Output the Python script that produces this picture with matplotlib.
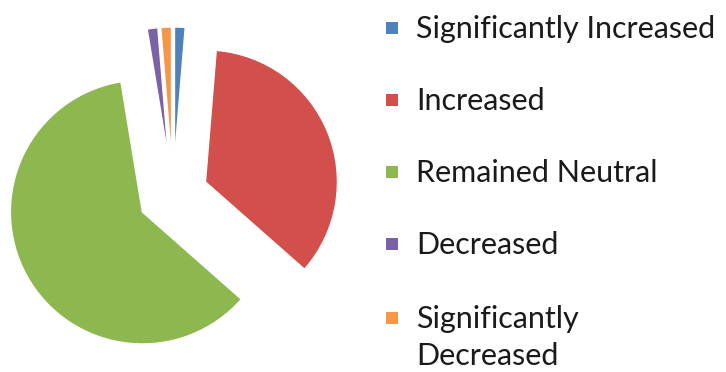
import matplotlib
matplotlib.use("Agg")
import matplotlib.pyplot as plt

labels = ["Significantly Increased", "Increased", "Remained Neutral",
          "Decreased", "Significantly\nDecreased"]
shares = [1.3, 35.2, 60.9, 1.3, 1.3]
colors = ["#4F81BD", "#D24F4B", "#8DB84F", "#7B62A8", "#F79646"]

W, H = 726, 372
fig = plt.figure(figsize=(W / 100, H / 100), dpi=100)
ax = fig.add_axes([0, 0, 1, 1])

# explode is in data units here (pixels), not a fraction of the radius
ax.pie(shares, colors=colors, explode=[36, 35, 35, 36, 36], startangle=90,
       counterclock=False, radius=132, center=(173, H - 195),
       wedgeprops={"linewidth": 1.0, "edgecolor": "white"})

# pie() resets the limits, so work in pixel units after it
ax.set_xlim(0, W)
ax.set_ylim(0, H)
ax.set_aspect("equal")
ax.axis("off")

# legend drawn by hand so the wrapped label keeps its marker on the first line
row_top = [28, 100, 172, 244, 318]
for lab, col, y in zip(labels, colors, row_top):
    ax.scatter([392], [H - y], marker="s", s=75, color=col, linewidths=0)
    ax.text(416, H - y + 13, lab, family="Lato", fontsize=22, color="#1a1a1a",
            va="top", ha="left", linespacing=1.4)

fig.savefig("out.png", dpi=100)
